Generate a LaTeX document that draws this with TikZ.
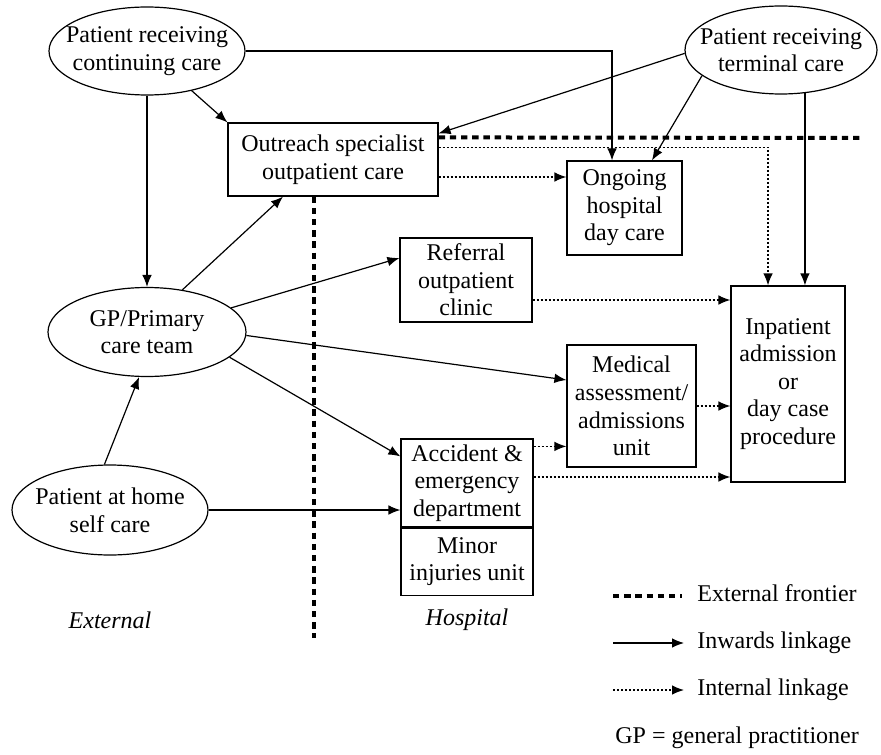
\documentclass[tikz,border=0pt]{standalone}
\usepackage{fontspec}
\setmainfont{Liberation Serif}
\usepackage{tikz}
\usetikzlibrary{arrows.meta, positioning, shapes.geometric, calc}

\begin{document}
\begin{tikzpicture}[x=0.5pt, y=-0.5pt,
    font=\fontsize{12}{13.8}\selectfont,
    >={Latex[length=6pt, width=4.8pt]},
    every node/.style={align=center},
    ell/.style={ellipse, draw, line width=0.6pt, inner xsep=-8pt, inner ysep=0pt},
    box/.style={rectangle, draw, line width=0.6pt, inner sep=0pt},
    link/.style={->, line width=0.6pt},
    intl/.style={->, line width=0.65pt, dash pattern=on 1.1pt off 0.9pt},
    front/.style={line width=2pt, dash pattern=on 3.2pt off 2.4pt},
    leg/.style={anchor=west, inner sep=0pt, text height=8pt, text depth=2.5pt}
]
    \useasboundingbox (0,0) rectangle (881,754);
    % external side
    \node[ell, minimum width=98pt, minimum height=44pt] (cc) at (147,51) {Patient receiving\\continuing care};
    \node[ell, minimum width=96pt, minimum height=44pt] (tc) at (781,50) {Patient receiving\\terminal care};
    \node[ell, minimum width=99pt, minimum height=44.5pt] (gp) at (147,332) {GP/Primary\\care team};
    \node[ell, minimum width=98pt, minimum height=45pt] (home) at (110,510) {Patient at home\\self care};
    % hospital side
    \node[box, minimum width=105pt, minimum height=36.5pt] (out) at (333,159.5) {Outreach specialist\\outpatient care};
    \node[box, minimum width=57.5pt, minimum height=47pt] (ong) at (624.5,208) {Ongoing\\hospital\\day care};
    \node[box, minimum width=66pt, minimum height=42pt] (rfc) at (466,280) {Referral\\outpatient\\clinic};
    \node[box, minimum width=64.5pt, minimum height=61pt] (med) at (631.5,406) {Medical\\assessment/\\admissions\\unit};
    \node[box, minimum width=57pt, minimum height=98pt] (inp) at (788,384) {Inpatient\\admission\\or\\day case\\procedure};
    \node[box, minimum width=66pt, minimum height=44pt] (ae) at (467,483) {Accident \&\\emergency\\department};
    \node[box, minimum width=66pt, minimum height=33.5pt, below=0pt of ae] (miu) {Minor\\injuries unit};

    % frontier
    \draw[front] ([yshift=-7.5pt]out.north east) -- (860,138);
    \draw[front] ([xshift=-9.5pt]out.south) -- (314,638);

    % inwards linkages
    \draw[link] (cc) -- (out.north west);
    \draw[link] (cc.south) -- (gp.north);
    \draw[link] (cc.east) -| ([xshift=-6.25pt]ong.north);
    \draw[link] (tc.182) -- ([yshift=-5.5pt]out.north east);
    \draw[link] (tc.198) -- ([xshift=13.75pt]ong.north);
    \draw[link] (tc.299) -- (tc.299 |- inp.north);
    \draw[link] (gp.50) -- ([xshift=-25pt]out.south);
    \draw[link] (gp.16) -- ([yshift=11pt]rfc.west);
    \draw[link] (gp.-2) -- ([yshift=13pt]med.west);
    \draw[link] (gp.-17) -- ([yshift=-9pt]ae.north west);
    \draw[link] (home.97) -- (gp.260);
    \draw[link] (home.east) -- (home.east -| ae.west);

    % internal linkages
    \coordinate (o1) at ([yshift=-12.5pt]out.north east);
    \coordinate (o2) at ([yshift=-8.75pt]out.east);
    \coordinate (r1) at ([yshift=-10pt]rfc.east);
    \coordinate (a1) at ([yshift=-4pt]ae.north east);
    \coordinate (a2) at ([yshift=3pt]ae.east);
    \draw[intl] (o1) -| ([xshift=-10pt]inp.north);
    \draw[intl] (o2) -- (o2 -| ong.west);
    \draw[intl] (r1) -- (r1 -| inp.west);
    \draw[intl] (med.east) -- (med.east -| inp.west);
    \draw[intl] (a1) -- (a1 -| med.west);
    \draw[intl] (a2) -- (a2 -| inp.west);

    \node[font=\fontsize{12}{13.8}\selectfont\itshape] (ext) at (110,620) {External};
    \node[font=\fontsize{12}{13.8}\selectfont\itshape] (hos) at (467,620) {Hospital};

    % key
    \node[leg] (lf) at (697,596) {External frontier};
    \node[leg, below=23.5pt of lf.west, anchor=west] (li) {Inwards linkage};
    \node[leg, below=23.5pt of li.west, anchor=west] (ln) {Internal linkage};
    \node[leg] (lgp) at (615,738) {GP = general practitioner};
    \draw[front] ([xshift=-42pt]lf.west) -- ([xshift=-7.5pt]lf.west);
    \draw[link] ([xshift=-42pt]li.west) -- ([xshift=-6.5pt]li.west);
    \draw[intl] ([xshift=-42pt]ln.west) -- ([xshift=-6.5pt]ln.west);
\end{tikzpicture}
\end{document}
